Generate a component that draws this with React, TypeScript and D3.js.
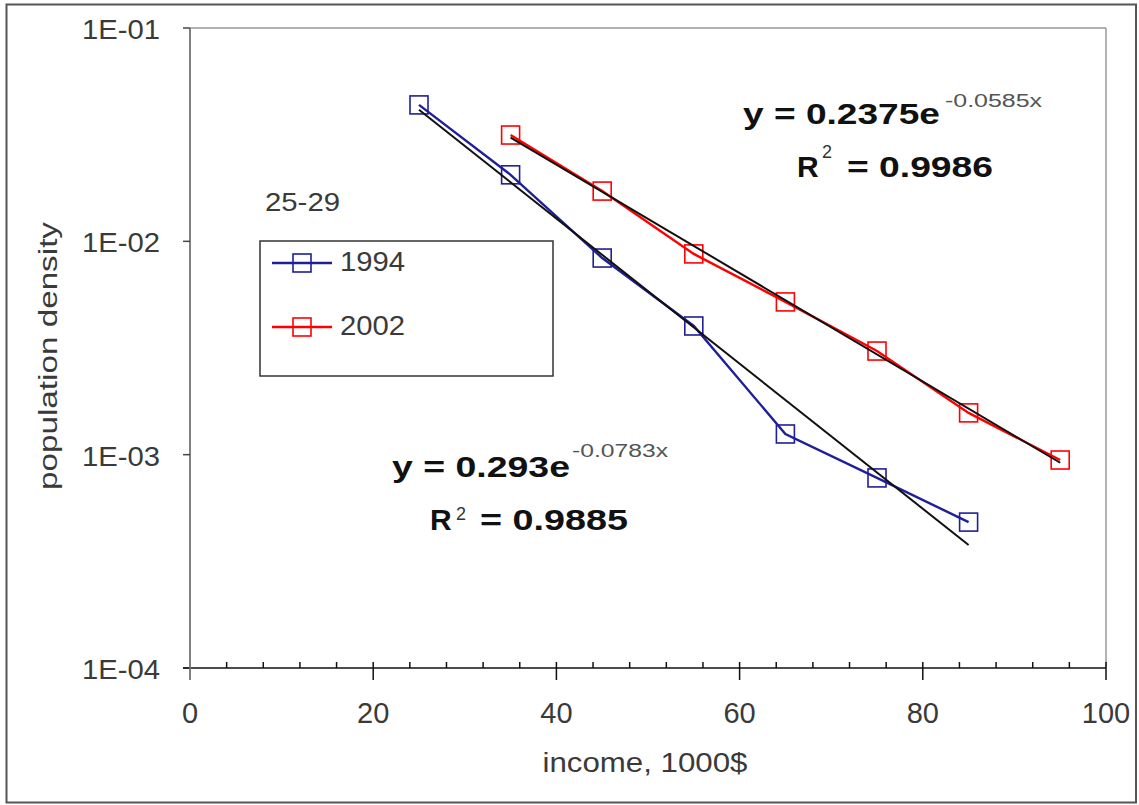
import React from "react";
import * as d3 from "d3";

// income brackets (1000$) and population density per bracket
const income1994 = [25, 35, 45, 55, 65, 75, 85];
const density1994 = [0.0436, 0.0205, 0.00835, 0.00401, 0.00125, 0.000778, 0.000483];
const income2002 = [35, 45, 55, 65, 75, 85, 95];
const density2002 = [0.0315, 0.0172, 0.00873, 0.0052, 0.00306, 0.00157, 0.000944];

// exponential trendline coefficients, as printed on the chart
const fit1994 = { a: 0.293, b: -0.0783, r2: "0.9885" };
const fit2002 = { a: 0.2375, b: -0.0585, r2: "0.9986" };

const yTicks = [1e-1, 1e-2, 1e-3, 1e-4];
const yTickLabels = ["1E-01", "1E-02", "1E-03", "1E-04"];
const xMajorTicks = [0, 20, 40, 60, 80, 100];

const W = 1139;
const H = 805;
const plot = { left: 190, right: 1106, top: 28, bottom: 668 };

const BLUE = "#1f1f99";
const RED = "#ff0000";
const FONT = "Arial, 'Liberation Sans', sans-serif";

type Pt = { x: number; y: number };

export default function App() {
  const x = d3.scaleLinear().domain([0, 100]).range([plot.left, plot.right]);
  const y = d3.scaleLog().domain([1e-4, 1e-1]).range([plot.bottom, plot.top]);

  const line = d3
    .line<Pt>()
    .x((d) => x(d.x))
    .y((d) => y(d.y));

  const s1994: Pt[] = income1994.map((v, i) => ({ x: v, y: density1994[i] }));
  const s2002: Pt[] = income2002.map((v, i) => ({ x: v, y: density2002[i] }));

  // straight on a log axis, so the two end points are enough
  const trend = (xs: number[], f: { a: number; b: number }): Pt[] => {
    const ends = [xs[0], xs[xs.length - 1]];
    return ends.map((v) => ({ x: v, y: f.a * Math.exp(f.b * v) }));
  };

  const minorTicks = d3.range(0, 101, 4).filter((v) => v % 20 !== 0);
  const mk = 18;

  const square = (p: Pt, color: string, key: string) => (
    <rect
      key={key}
      x={x(p.x) - mk / 2}
      y={y(p.y) - mk / 2}
      width={mk}
      height={mk}
      fill="none"
      stroke={color}
      strokeWidth={1.6}
    />
  );

  return (
    <div style={{ position: "absolute", left: 0, top: 0 }}>
      <svg width={W} height={H} style={{ display: "block", background: "#fff" }} fontFamily={FONT}>
        <rect x={6.5} y={4.5} width={1129.5} height={798} fill="#fff" stroke="#555" strokeWidth={2} />

        {/* plot area border */}
        <line x1={plot.left} x2={plot.right} y1={plot.top} y2={plot.top} stroke="#999" strokeWidth={1.5} />
        <line x1={plot.right} x2={plot.right} y1={plot.top} y2={plot.bottom} stroke="#999" strokeWidth={1.5} />
        <line x1={plot.left} x2={plot.left} y1={plot.top} y2={plot.bottom + 12} stroke="#808080" strokeWidth={2} />

        {/* y axis ticks */}
        {yTicks.map((t, i) => (
          <g key={`yt${i}`}>
            <line x1={plot.left - 7} x2={plot.left} y1={y(t)} y2={y(t)} stroke="#444" strokeWidth={1.5} />
            <text x={160} y={y(t) + 11} textAnchor="end" fontSize={28} fill="#3a3a3a" textLength={78} lengthAdjust="spacingAndGlyphs">
              {yTickLabels[i]}
            </text>
          </g>
        ))}

        {/* x axis */}
        <line x1={plot.left - 7} x2={plot.right} y1={plot.bottom} y2={plot.bottom} stroke="#111" strokeWidth={1.5} />
        {minorTicks.map((t) => (
          <line key={`mn${t}`} x1={x(t)} x2={x(t)} y1={plot.bottom - 6} y2={plot.bottom} stroke="#111" strokeWidth={1.5} />
        ))}
        {xMajorTicks.map((t) => (
          <g key={`xt${t}`}>
            <line x1={x(t)} x2={x(t)} y1={plot.bottom - 6} y2={plot.bottom + 12} stroke={t === 0 ? "#808080" : "#111"} strokeWidth={1.5} />
            <text x={x(t)} y={723} textAnchor="middle" fontSize={29} fill="#3a3a3a">
              {t}
            </text>
          </g>
        ))}

        <text x={645} y={772} textAnchor="middle" fontSize={28} fill="#3a3a3a" textLength={205} lengthAdjust="spacingAndGlyphs">
          income, 1000$
        </text>
        <text
          transform="translate(57,356) rotate(-90)"
          textAnchor="middle"
          fontSize={26}
          fill="#3a3a3a"
          textLength={268}
          lengthAdjust="spacingAndGlyphs"
        >
          population density
        </text>

        {/* series */}
        <path d={line(s1994) ?? ""} fill="none" stroke={BLUE} strokeWidth={2.4} />
        <path d={line(s2002) ?? ""} fill="none" stroke={RED} strokeWidth={2.4} />
        {s1994.map((p, i) => square(p, BLUE, `b${i}`))}
        {s2002.map((p, i) => square(p, RED, `r${i}`))}

        {/* trendlines */}
        <path d={line(trend(income1994, fit1994)) ?? ""} fill="none" stroke="#111" strokeWidth={2} />
        <path d={line(trend(income2002, fit2002)) ?? ""} fill="none" stroke="#111" strokeWidth={2} />

        {/* age group label and legend */}
        <text x={265} y={211} fontSize={26} fill="#3a3a3a" textLength={75} lengthAdjust="spacingAndGlyphs">
          25-29
        </text>
        <rect x={260} y={241} width={293} height={135} fill="#fff" stroke="#333" strokeWidth={1.5} />
        {[
          { label: "1994", color: BLUE, cy: 263 },
          { label: "2002", color: RED, cy: 327 },
        ].map((d) => (
          <g key={d.label}>
            <line x1={272} x2={332} y1={d.cy} y2={d.cy} stroke={d.color} strokeWidth={2.4} />
            <rect x={302 - 9} y={d.cy - 9} width={18} height={18} fill="none" stroke={d.color} strokeWidth={1.6} />
            <text x={340} y={d.cy + 8} fontSize={27} fill="#3a3a3a" textLength={65} lengthAdjust="spacingAndGlyphs">
              {d.label}
            </text>
          </g>
        ))}

        {/* equation 2002 */}
        <text x={743} y={124} fontSize={30} fontWeight="bold" fill="#111" textLength={197} lengthAdjust="spacingAndGlyphs">
          y = {fit2002.a}e
        </text>
        <text x={945} y={107} fontSize={18} fill="#555" textLength={97} lengthAdjust="spacingAndGlyphs">
          {fit2002.b.toFixed(4)}x
        </text>
        <text x={797} y={177} fontSize={30} fontWeight="bold" fill="#111">
          R
        </text>
        <text x={822} y={158} fontSize={18} fill="#333">
          2
        </text>
        <text x={847} y={177} fontSize={30} fontWeight="bold" fill="#111" textLength={146} lengthAdjust="spacingAndGlyphs">
          = {fit2002.r2}
        </text>

        {/* equation 1994 */}
        <text x={392} y={477} fontSize={30} fontWeight="bold" fill="#111" textLength={178} lengthAdjust="spacingAndGlyphs">
          y = {fit1994.a}e
        </text>
        <text x={572} y={457} fontSize={18} fill="#555" textLength={96} lengthAdjust="spacingAndGlyphs">
          {fit1994.b.toFixed(4)}x
        </text>
        <text x={430} y={530} fontSize={30} fontWeight="bold" fill="#111">
          R
        </text>
        <text x={456} y={520} fontSize={18} fill="#333">
          2
        </text>
        <text x={480} y={530} fontSize={30} fontWeight="bold" fill="#111" textLength={148} lengthAdjust="spacingAndGlyphs">
          = {fit1994.r2}
        </text>
      </svg>
    </div>
  );
}
